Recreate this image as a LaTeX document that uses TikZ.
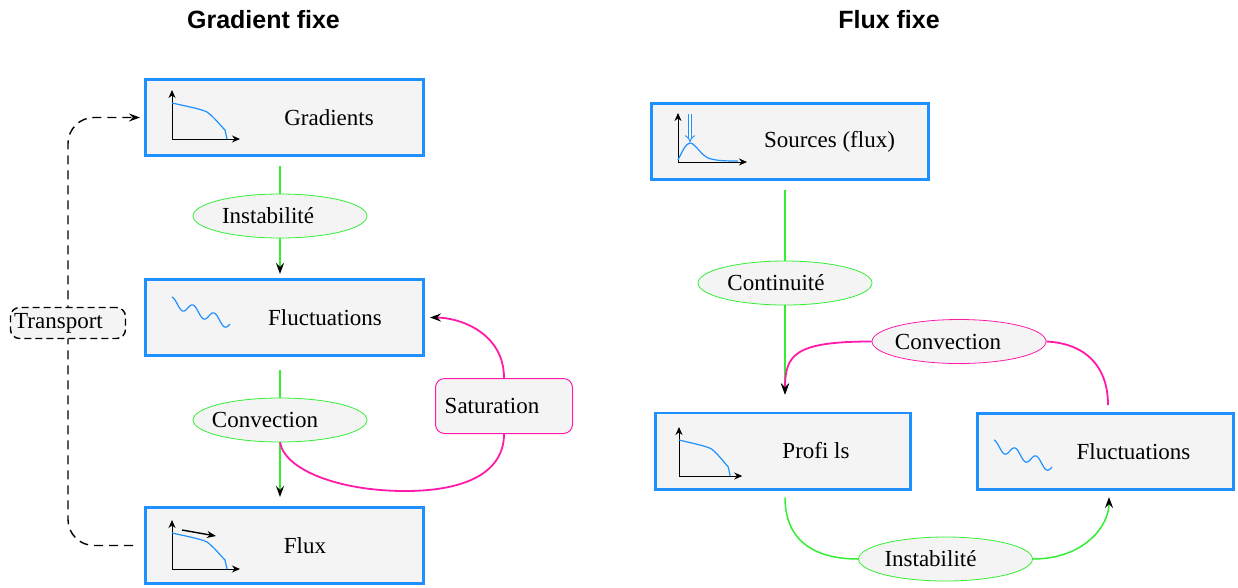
\documentclass[tikz,border=0pt]{standalone}
\usepackage{fontspec}
\setmainfont{Liberation Serif}
\newfontfamily\titlefont{Liberation Sans}
\usetikzlibrary{arrows.meta,shapes.geometric,calc}
\definecolor{boxblue}{HTML}{1E90FF}
\definecolor{boxfill}{HTML}{F4F4F4}
\definecolor{lgreen}{HTML}{33EE33}
\definecolor{lpink}{HTML}{FF1AAA}
\newcommand\shl[2]{\makebox[0pt]{#2\hspace*{#1}}}
\newcommand\proficon[2][]{%
  \begin{scope}[shift={(#2)},#1]
    \draw[icoax] (0,0) -- (0,-49);
    \draw[icoax] (0,0) -- (68,0);
    \draw[icocurve] (0,-36) .. controls (18,-32) and (29,-30) .. (35,-27)
      .. controls (42,-22) and (48,-14) .. (53,-9) -- (55,0);
  \end{scope}}
\newcommand\waveicon[1]{%
  \begin{scope}[shift={(#1)}]
    \draw[icocurve] plot[domain=0:1,samples=80,smooth] ({58*\x},{5+22*\x-5*cos(990*\x)});
  \end{scope}}
\begin{document}
\begin{tikzpicture}[x=1pt,y=-1pt,
  every node/.style={font=\fontsize{23}{27}\selectfont},
  bigbox/.style={draw=boxblue, line width=2.6pt, fill=boxfill, minimum height=76.4pt, inner sep=0pt},
  oval/.style={ellipse, fill=boxfill, line width=0.8pt, minimum width=174pt, minimum height=44pt, inner sep=0pt},
  gline/.style={draw=lgreen, line width=1.5pt},
  pline/.style={draw=lpink, line width=1.8pt},
  tip/.style={-{Stealth[length=11pt,width=8pt,inset=4pt,black]}},
  title/.style={font=\titlefont\bfseries\fontsize{25}{30}\selectfont},
  icoax/.style={line width=1pt, -{Stealth[length=8pt,width=7pt]}},
  icocurve/.style={draw=boxblue, line width=1.2pt},
  tline/.style={draw=black, line width=1.4pt, dash pattern=on 9pt off 6pt},
]
\useasboundingbox (0,0) rectangle (1238,587);

% titles
\node[title] (t1) at (263.5,20) {Gradient fixe};
\node[title] (t2) at (889,20) {Flux fixe};

% boxes
\node[bigbox, minimum width=278.4pt] (grad) at (284.5,117.5) {\hspace*{89pt}Gradients};
\node[bigbox, minimum width=278.4pt] (fluctL) at (284.5,317.5) {\hspace*{81pt}Fluctuations};
\node[bigbox, minimum width=278.4pt] (flux) at (284.5,545.5) {\hspace*{41pt}Flux};
\node[bigbox, minimum width=277.4pt] (src) at (790,141.5) {\hspace*{79pt}Sources (flux)};
\node[bigbox, minimum width=255.4pt] (prof) at (783,451) {\hspace*{66pt}Profi ls};
\node[bigbox, minimum width=256.4pt] (fluctR) at (1105.5,451.5) {\hspace*{56pt}Fluctuations};

% icons
\proficon{172,139}
\proficon{172,569}
\draw[line width=1.4pt, -{Stealth[length=9pt,width=7pt]}] (182,530) -- (216,536);
\proficon[xscale=0.93]{679,476}
\waveicon{172,297}
\waveicon{994,440}
% sources icon
\begin{scope}[shift={(678,162)}]
  \draw[icoax] (0,0) -- (0,-49);
  \draw[icoax] (0,0) -- (69,0);
  \draw[icocurve] (0,-2) .. controls (4,-10) and (8,-19) .. (12,-19)
    .. controls (17,-19) and (22,-8) .. (30,-4) .. controls (38,-1) and (50,-1) .. (60,-1);
  \draw[draw=boxblue, line width=0.9pt, double=white, double distance=2.6pt, -{Implies[length=8pt,width=16pt]}] (12,-48) -- (12,-20);
\end{scope}

% ellipses and other nodes
\node[oval, draw=lgreen] (instL) at (280,216) {\shl{24pt}{Instabilité}};
\node[oval, draw=lgreen] (convL) at (280,420) {\shl{30pt}{Convection}};
\node[oval, draw=lgreen] (cont) at (785,283) {\shl{18pt}{Continuité}};
\node[oval, draw=lpink] (convR) at (959,341.5) {\shl{22pt}{Convection}};
\node[oval, draw=lgreen] (instR) at (945.5,559) {\shl{30pt}{Instabilité}};
\node[draw=lpink, line width=1pt, rounded corners=9pt, fill=boxfill, minimum width=137pt,
      minimum height=55pt, inner sep=0pt] (sat) at (504,406) {\shl{24pt}{Saturation}};

% transport loop
\draw[tline, rounded corners=26pt, -{Stealth[length=11pt,width=8pt,inset=4pt]}]
  ([xshift=-11pt]flux.west) -| (68,323) |- ([xshift=-4pt]grad.west);
\node[draw, line width=1.4pt, dash pattern=on 7pt off 4pt, rounded corners=9pt, fill=boxfill,
      minimum width=115pt, minimum height=31pt, inner sep=0pt] (trans) at (68,323) {\shl{19pt}{Transport}};

% left column connectors
\draw[gline] ([yshift=-9pt]instL.north |- grad.south) -- (instL.north);
\draw[gline, tip, shorten >=4pt] (instL.south) -- (instL.south |- fluctL.north);
\draw[gline] ([yshift=-13pt]convL.north |- fluctL.south) -- (convL.north);
\draw[gline, tip, shorten >=9pt] (convL.south) -- (convL.south |- flux.north);
\coordinate (satlow) at (405,491);
\draw[pline] (convL.south) .. controls +(5,28) and +(-65,0) .. (satlow)
  .. controls +(65,0) and +(0,36) .. (sat.south);
\draw[pline, tip] (sat.north) .. controls +(0,-45) and +(30,0) .. ([xshift=5pt]fluctL.east);

% right column connectors
\coordinate (pin) at ([yshift=17pt]cont.south |- prof.north);
\draw[gline] ([yshift=-9pt]cont.north |- src.south) -- (cont.north);
\draw[gline, tip] (cont.south) -- (pin);
\draw[pline, tip] (convR.west) .. controls +(-77,0) and +(0,-40) .. (pin);
\draw[pline] (convR.east) .. controls +(40,2) and +(0,-38) .. ([xshift=2.5pt,yshift=7pt]fluctR.north);
\draw[gline] ([yshift=-7pt]cont.south |- prof.south) .. controls +(0,46) and +(-40,0) .. (instR.west);
\draw[gline, tip] (instR.east) .. controls +(50,0) and +(0,30) .. ([xshift=3.5pt,yshift=-6pt]fluctR.south);
\end{tikzpicture}
\end{document}
